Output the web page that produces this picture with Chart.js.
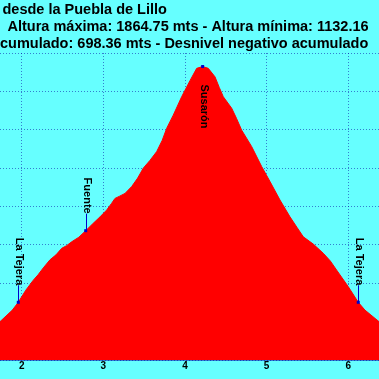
<!DOCTYPE html>
<html><head><meta charset="utf-8">
<style>html,body{margin:0;padding:0;background:#66ffff;overflow:hidden}#wrap{width:379px;height:379px;position:relative}</style>
<script src="https://cdn.jsdelivr.net/npm/chart.js@4.4.1/dist/chart.umd.min.js"></script>
</head><body><div id="wrap"><canvas id="c" width="379" height="379"></canvas></div>
<script>
const titleLines = [
  "desde la Puebla de Lillo",
  "Altura máxima: 1864.75 mts - Altura mínima: 1132.16",
  "cumulado: 698.36 mts - Desnivel negativo acumulado"
];
const distanceKm = [1.60, 1.734, 1.885, 1.958, 2.05, 2.142, 2.20, 2.264, 2.346, 2.42, 2.490, 2.55, 2.612, 2.70, 2.784, 2.87, 2.959, 3.041, 3.10, 3.142, 3.20, 3.265, 3.347, 3.42, 3.489, 3.57, 3.653, 3.72, 3.776, 3.856, 3.959, 4.061, 4.143, 4.216, 4.285, 4.367, 4.42, 4.469, 4.572, 4.63, 4.694, 4.817, 4.939, 5.041, 5.163, 5.286, 5.37, 5.449, 5.571, 5.694, 5.78, 5.858, 6.000, 6.122, 6.204, 6.376, 6.50];
const elevationM = [1160, 1200, 1230, 1250.4, 1282, 1308, 1322, 1340, 1361, 1374, 1391, 1398, 1408, 1420, 1437, 1455, 1473, 1491, 1508, 1521, 1527, 1534, 1552, 1574, 1600, 1620, 1643, 1672, 1704, 1738, 1786, 1828, 1860, 1864.75, 1860, 1838, 1810, 1786, 1756, 1730, 1699, 1656, 1604, 1565, 1517, 1473, 1446, 1421, 1402, 1378, 1358, 1334, 1291, 1250.4, 1230, 1200, 1165];
const waypointNames = ["La Tejera", "Fuente", "Susarón", "La Tejera"];
const waypointKm = [1.958, 2.784, 4.216, 6.122];
const waypointElev = [1250.4, 1437, 1864.75, 1250.4];
const xTicks = [2, 3, 4, 5, 6];
const yTicks = [1100, 1200, 1300, 1400, 1500, 1600, 1700, 1800, 1900];

const FONT = '"Liberation Sans", Arial, sans-serif';

const bgPlugin = {
  id: 'bg',
  beforeDraw(chart) {
    const ctx = chart.ctx;
    ctx.save();
    ctx.fillStyle = '#66ffff';
    ctx.fillRect(0, 0, chart.width, chart.height);
    ctx.restore();
  }
};

const titlePlugin = {
  id: 'titleLines',
  afterDraw(chart) {
    const ctx = chart.ctx;
    const xs = [2.5, 7.5, 0];
    const ys = [14, 31, 47.5];
    ctx.save();
    ctx.font = 'bold 14.5px ' + FONT;
    ctx.fillStyle = '#000';
    ctx.textAlign = 'left';
    ctx.textBaseline = 'alphabetic';
    titleLines.forEach((t, i) => ctx.fillText(t, xs[i], ys[i]));
    ctx.restore();
  }
};

const waypointPlugin = {
  id: 'waypoints',
  afterDraw(chart) {
    const ctx = chart.ctx, xs = chart.scales.x, ys = chart.scales.y;
    const maxE = Math.max(...elevationM);
    ctx.save();
    ctx.font = 'bold 11px ' + FONT;
    waypointNames.forEach((name, i) => {
      const px = xs.getPixelForValue(waypointKm[i]);
      const py = ys.getPixelForValue(waypointElev[i]);
      const w = ctx.measureText(name).width;
      const below = waypointElev[i] >= maxE;
      let start;
      if (below) {
        start = py + 18;
      } else {
        start = py - 17 - w;
        ctx.strokeStyle = '#0000cc';
        ctx.lineWidth = 1;
        ctx.beginPath();
        ctx.moveTo(Math.round(px) + 0.5, py);
        ctx.lineTo(Math.round(px) + 0.5, py - 17);
        ctx.stroke();
      }
      ctx.fillStyle = '#0000cc';
      ctx.fillRect(px - 1.5, py - 1.5, 3, 3);
      ctx.save();
      ctx.translate(px - 2, start);
      ctx.rotate(Math.PI / 2);
      ctx.fillStyle = '#000';
      ctx.textAlign = 'left';
      ctx.textBaseline = 'alphabetic';
      ctx.fillText(name, 0, 0);
      ctx.restore();
    });
    ctx.restore();
  }
};

const gridColor = 'rgba(0,0,160,0.5)';

new Chart(document.getElementById('c'), {
  type: 'line',
  data: {
    datasets: [{
      data: distanceKm.map((d, i) => ({ x: d, y: elevationM[i] })),
      backgroundColor: '#ff0000',
      borderColor: '#ff0000',
      borderWidth: 1,
      fill: 'start',
      pointRadius: 0,
      tension: 0
    }]
  },
  options: {
    responsive: false,
    animation: false,
    devicePixelRatio: 1,
    layout: { padding: { top: 53, left: 0, right: 0, bottom: 7 } },
    plugins: { legend: { display: false }, title: { display: false }, tooltip: { enabled: false } },
    scales: {
      x: {
        type: 'linear',
        min: 1.734,
        max: 6.376,
        z: 1,
        afterBuildTicks: s => { s.ticks = xTicks.map(v => ({ value: v })); },
        ticks: { padding: 0, font: { family: FONT, size: 10, weight: 'bold' }, color: '#000' },
        grid: { color: gridColor, lineWidth: 1, drawTicks: false },
        border: { display: true, color: gridColor, dash: [1, 2] }
      },
      y: {
        type: 'linear',
        min: 1100,
        max: 1900,
        z: 1,
        afterBuildTicks: s => { s.ticks = yTicks.map(v => ({ value: v })); },
        ticks: { display: false },
        grid: { color: gridColor, lineWidth: 1, drawTicks: false },
        border: { display: false, dash: [1, 2] }
      }
    }
  },
  plugins: [bgPlugin, titlePlugin, waypointPlugin]
});
</script>
</body></html>
